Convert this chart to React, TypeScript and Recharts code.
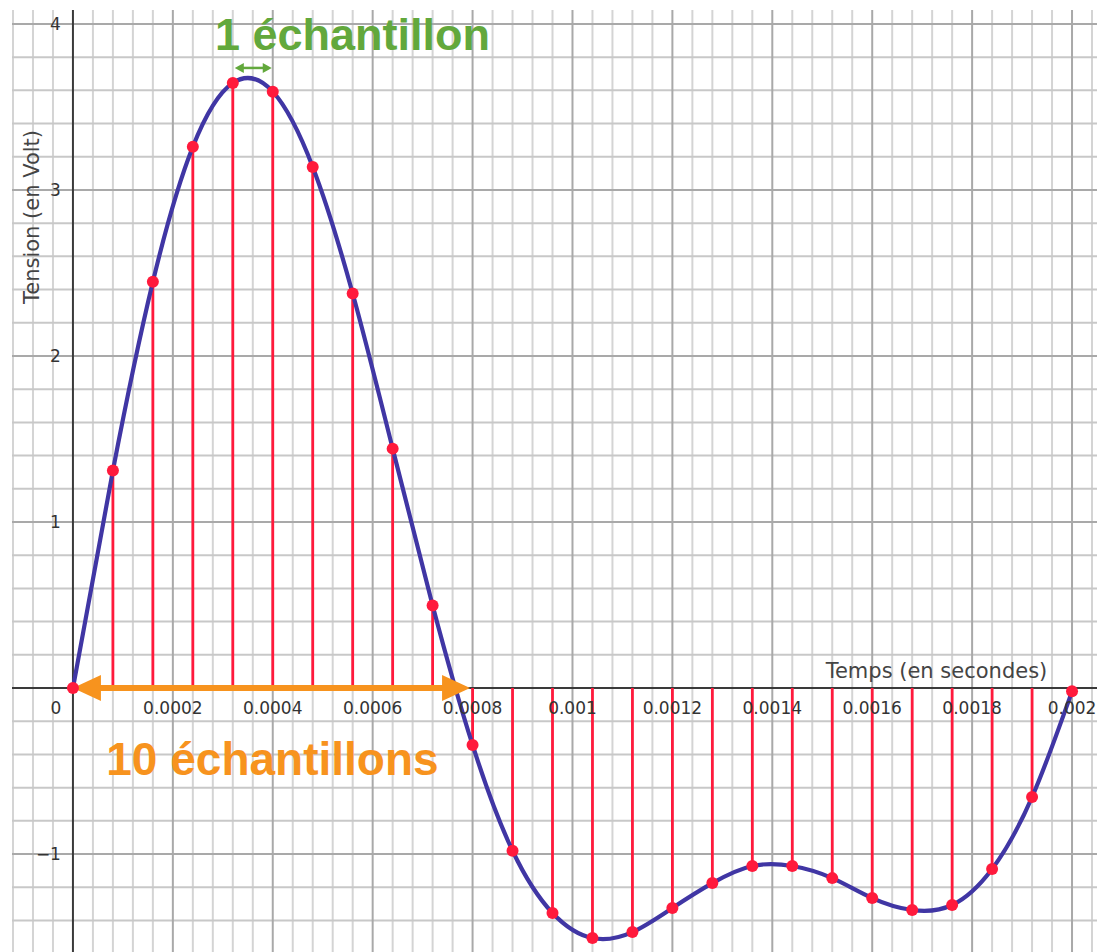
import {
  ComposedChart,
  Line,
  Scatter,
  XAxis,
  YAxis,
  ReferenceLine,
  ReferenceDot,
} from "recharts"

// Sampled signal (Te = 0.00008 s)
const sampleTimes = [
  0, 0.00008, 0.00016, 0.00024, 0.00032, 0.0004, 0.00048, 0.00056, 0.00064,
  0.00072, 0.0008, 0.00088, 0.00096, 0.00104, 0.00112, 0.0012, 0.00128,
  0.00136, 0.00144, 0.00152, 0.0016, 0.00168, 0.00176, 0.00184, 0.00192, 0.002,
]
const sampleVolts = [
  0, 1.31, 2.447, 3.26, 3.644, 3.592, 3.139, 2.376, 1.442, 0.497, -0.343,
  -0.98, -1.355, -1.506, -1.47, -1.325, -1.175, -1.072, -1.072, -1.145,
  -1.265, -1.337, -1.307, -1.09, -0.657, -0.02,
]

const xTickValues = [0.0002, 0.0004, 0.0006, 0.0008, 0.001, 0.0012, 0.0014, 0.0016, 0.0018, 0.002]
const xTickLabels = ["0.0002", "0.0004", "0.0006", "0.0008", "0.001", "0.0012", "0.0014", "0.0016", "0.0018", "0.002"]
const yTickValues = [-1, 1, 2, 3, 4]
const yTickLabels = ["−1", "1", "2", "3", "4"]

const X_DOMAIN: [number, number] = [-0.000122, 0.00205]
const Y_DOMAIN: [number, number] = [-1.59, 4.084]

const FONT = "'DejaVu Sans', sans-serif"
const BOLD_FONT = "'Liberation Sans', Arial, sans-serif"

const BLUE = "#4036a4"
const RED = "#ff1a3c"
const GREEN = "#62a83c"
const ORANGE = "#f7931e"

// grid positions: minor every 0.00004 s / 0.2 V, major every 0.0002 s / 1 V
const minorX: { v: number; major: boolean }[] = []
for (let k = -3; k <= 51; k++) minorX.push({ v: k * 0.00004, major: k % 5 === 0 })
const minorY: { v: number; major: boolean }[] = []
for (let k = -7; k <= 20; k++) minorY.push({ v: k * 0.2, major: k % 5 === 0 })

const points = sampleTimes.map((t, i) => ({ t, v: sampleVolts[i] }))

function makeArrow(head: number, half: number, width: number, color: string) {
  return (props: any) => {
    const { x1, y1, x2, y2 } = props
    const y = (y1 + y2) / 2
    return (
      <g>
        <line x1={x1 + head * 0.8} y1={y} x2={x2 - head * 0.8} y2={y} stroke={color} strokeWidth={width} />
        <polygon points={`${x1},${y} ${x1 + head},${y - half} ${x1 + head},${y + half}`} fill={color} />
        <polygon points={`${x2},${y} ${x2 - head},${y - half} ${x2 - head},${y + half}`} fill={color} />
      </g>
    )
  }
}

export default function App() {
  return (
    <div style={{ position: "absolute", left: 0, top: 0, width: 1097, height: 952, background: "#fff" }}>
      <ComposedChart
        width={1097}
        height={952}
        data={points}
        margin={{ top: 10, right: 0, bottom: 0, left: 12 }}
      >
        <XAxis type="number" dataKey="t" domain={X_DOMAIN} allowDataOverflow hide />
        <YAxis type="number" dataKey="v" domain={Y_DOMAIN} allowDataOverflow hide />

        {/* minor grid */}
        {minorX.filter((g) => !g.major).map((g) => (
          <ReferenceLine key={`mx${g.v}`} x={g.v} stroke="#d4d4d4" strokeWidth={2} />
        ))}
        {minorY.filter((g) => !g.major).map((g) => (
          <ReferenceLine key={`my${g.v}`} y={g.v} stroke="#c8c8c8" strokeWidth={2} />
        ))}
        {/* major grid */}
        {minorX.filter((g) => g.major && g.v !== 0).map((g) => (
          <ReferenceLine key={`Mx${g.v}`} x={g.v} stroke="#a9a9a9" strokeWidth={2} />
        ))}
        {minorY.filter((g) => g.major && g.v !== 0).map((g) => (
          <ReferenceLine key={`My${g.v}`} y={g.v} stroke="#a9a9a9" strokeWidth={2} />
        ))}

        {/* axes */}
        <ReferenceLine x={0} stroke="#3a3a3a" strokeWidth={2} />
        <ReferenceLine y={0} stroke="#3a3a3a" strokeWidth={2} />

        {/* stems */}
        {points.map((p) => (
          <ReferenceLine
            key={`s${p.t}`}
            segment={[{ x: p.t, y: 0 }, { x: p.t, y: p.v }]}
            stroke={RED}
            strokeWidth={2.8}
          />
        ))}

        {/* tick labels */}
        {xTickValues.map((v, i) => (
          <ReferenceDot
            key={`xt${v}`}
            x={v}
            y={0}
            r={0}
            stroke="none"
            label={{ value: xTickLabels[i], position: "bottom", offset: 14, fill: "#333", fontSize: 17, fontFamily: FONT }}
          />
        ))}
        {yTickValues.map((v, i) => (
          <ReferenceDot
            key={`yt${v}`}
            x={0}
            y={v}
            r={0}
            stroke="none"
            label={{ value: yTickLabels[i], position: "left", offset: 12, fill: "#333", fontSize: 17, fontFamily: FONT }}
          />
        ))}
        <ReferenceDot
          x={0}
          y={0}
          r={0}
          stroke="none"
          label={{ value: "0", position: "bottom", offset: 14, dx: -17, fill: "#333", fontSize: 17, fontFamily: FONT }}
        />

        {/* axis titles */}
        <ReferenceDot
          x={0.0017287}
          y={0}
          r={0}
          stroke="none"
          label={{ value: "Temps (en secondes)", position: "top", offset: 10, fill: "#444", fontSize: 21, fontFamily: FONT }}
        />
        <ReferenceDot
          x={-0.000082}
          y={2.837}
          r={0}
          stroke="none"
          label={{ value: "Tension (en Volt)", position: "center", angle: -90, fill: "#444", fontSize: 21, fontFamily: FONT }}
        />

        <Scatter
          data={points}
          dataKey="v"
          isAnimationActive={false}
          shape={(p: any) => <circle cx={p.cx} cy={p.cy} r={6} fill={RED} />}
        />
        <Line
          type="natural"
          dataKey="v"
          stroke={BLUE}
          strokeWidth={4.2}
          dot={false}
          activeDot={false}
          isAnimationActive={false}
        />

        {/* annotations */}
        <ReferenceLine
          segment={[{ x: 0.000324, y: 3.735 }, { x: 0.000398, y: 3.735 }]}
          stroke={GREEN}
          shape={makeArrow(9, 5, 2.5, GREEN)}
        />
        <ReferenceLine
          segment={[{ x: 0, y: 0 }, { x: 0.000795, y: 0 }]}
          stroke={ORANGE}
          shape={makeArrow(28, 13, 6, ORANGE)}
        />
        <ReferenceDot
          x={0.0005596}
          y={3.94}
          r={0}
          stroke="none"
          label={{ value: "1 échantillon", position: "center", fill: GREEN, fontSize: 45, fontWeight: 700, fontFamily: BOLD_FONT }}
        />
        <ReferenceDot
          x={0.0003994}
          y={-0.428}
          r={0}
          stroke="none"
          label={{ value: "10 échantillons", position: "center", fill: ORANGE, fontSize: 46, fontWeight: 700, fontFamily: BOLD_FONT }}
        />
      </ComposedChart>
    </div>
  )
}
